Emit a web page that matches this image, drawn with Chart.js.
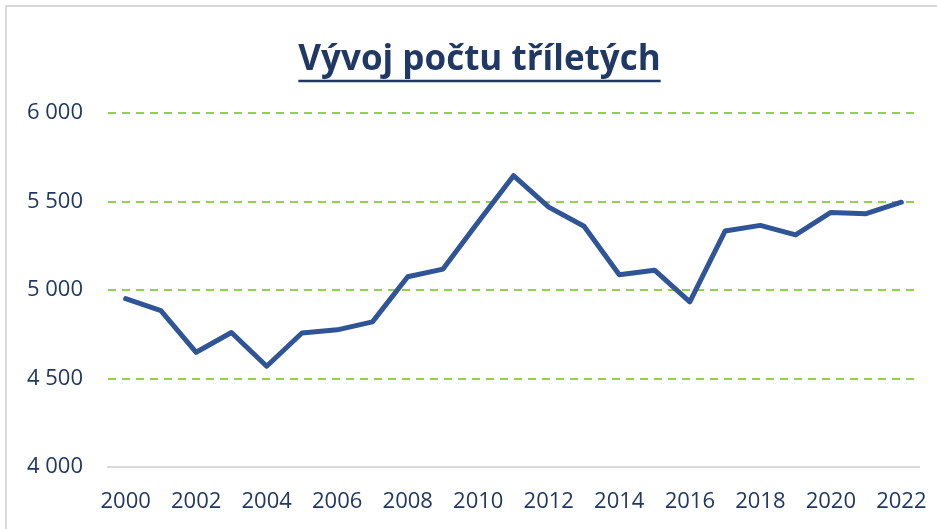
<!DOCTYPE html>
<html>
<head>
<meta charset="utf-8">
<script src="https://cdn.jsdelivr.net/npm/chart.js@4.4.1/dist/chart.umd.min.js"></script>
<style>
  html, body { margin: 0; padding: 0; background: #fff; }
  #wrap { position: relative; width: 937px; height: 529px; overflow: hidden; }
  #frame { position: absolute; left: 5px; top: 5px; width: 960px; height: 560px;
           border: 2px solid #d9d9d9; box-sizing: border-box; pointer-events: none; }
  canvas { position: absolute; left: 0; top: 0; }
</style>
</head>
<body>
<div id="wrap">
  <canvas id="mycanvas" width="937" height="529"></canvas>
  <div id="frame"></div>
</div>
<script>
// data
var roky = ['2000','2001','2002','2003','2004','2005','2006','2007','2008','2009','2010',
            '2011','2012','2013','2014','2015','2016','2017','2018','2019','2020','2021','2022'];
var pocet = [4951, 4884, 4648, 4760, 4569, 4757, 4775, 4820, 5075, 5118, 5384,
             5646, 5468, 5360, 5086, 5112, 4933, 5333, 5365, 5311, 5438, 5431, 5496];
var nadpis = 'Vývoj počtu tříletých';
var yMin = 4000, yMax = 6000, yKrok = 500;

var modra = '#203864';

function tisice(v) {
    return String(v).replace(/\B(?=(\d{3})+(?!\d))/g, ' ');
}

// title centred like in Excel + underline under it
var podtrzeni = {
    id: 'podtrzeni',
    afterLayout: function(chart) {
        var tb = chart.titleBlock;
        if (!tb) return;
        tb.left = 40;
        tb.right = 919;
    },
    afterDraw: function(chart) {
        var tb = chart.titleBlock;
        if (!tb) return;
        var ctx = chart.ctx;
        var f = chart.options.plugins.title.font;
        ctx.save();
        ctx.font = f.weight + ' ' + f.size + 'px ' + f.family;
        var w = ctx.measureText(nadpis).width;
        var cx = (tb.left + tb.right) / 2;
        ctx.strokeStyle = modra;
        ctx.lineWidth = 2.5;
        ctx.beginPath();
        ctx.moveTo(cx - w / 2, 81);
        ctx.lineTo(cx + w / 2, 81);
        ctx.stroke();
        ctx.restore();
    }
};

var ctx = document.getElementById('mycanvas');
var graf = new Chart(ctx, {
    type: 'line',
    data: {
        labels: roky,
        datasets: [{
            label: 'počet',
            data: pocet,
            borderColor: '#2F5597',
            backgroundColor: '#2F5597',
            borderWidth: 5,
            pointRadius: 0,
            tension: 0,
            borderCapStyle: 'round',
            borderJoinStyle: 'round'
        }]
    },
    options: {
        responsive: false,
        animation: false,
        layout: { padding: { left: 0, right: 18, top: 0, bottom: 0 } },
        plugins: {
            legend: { display: false },
            tooltip: { enabled: false },
            title: {
                display: true,
                text: nadpis,
                color: modra,
                font: { family: 'Open Sans', size: 35, weight: 'bold' },
                padding: { top: 39, bottom: 32 }
            }
        },
        scales: {
            x: {
                offset: true,
                grid: { display: false, drawTicks: false },
                border: { display: true, color: '#d9d9d9', width: 2 },
                ticks: {
                    autoSkip: false,
                    maxRotation: 0,
                    padding: 22,
                    color: modra,
                    font: { family: 'Open Sans', size: 22 },
                    callback: function(val, i) {
                        var r = this.getLabelForValue(val);
                        return (parseInt(r) % 2 === 0) ? r : '';
                    }
                },
                afterFit: function(s) {
                    s.height = 62;
                    s.paddingLeft = 0;
                    s.paddingRight = 0;
                }
            },
            y: {
                min: yMin,
                max: yMax,
                grid: {
                    drawTicks: false,
                    lineWidth: 2,
                    color: function(c) {
                        return c.tick && c.tick.value === yMin ? 'rgba(0,0,0,0)' : '#92D050';
                    }
                },
                border: { display: false, dash: [8, 6] },
                ticks: {
                    stepSize: yKrok,
                    padding: 25,
                    color: modra,
                    font: { family: 'Open Sans', size: 22 },
                    callback: function(v) { return tisice(v); }
                },
                afterFit: function(s) { s.width = 108; }
            }
        }
    },
    plugins: [podtrzeni]
});
</script>
</body>
</html>
